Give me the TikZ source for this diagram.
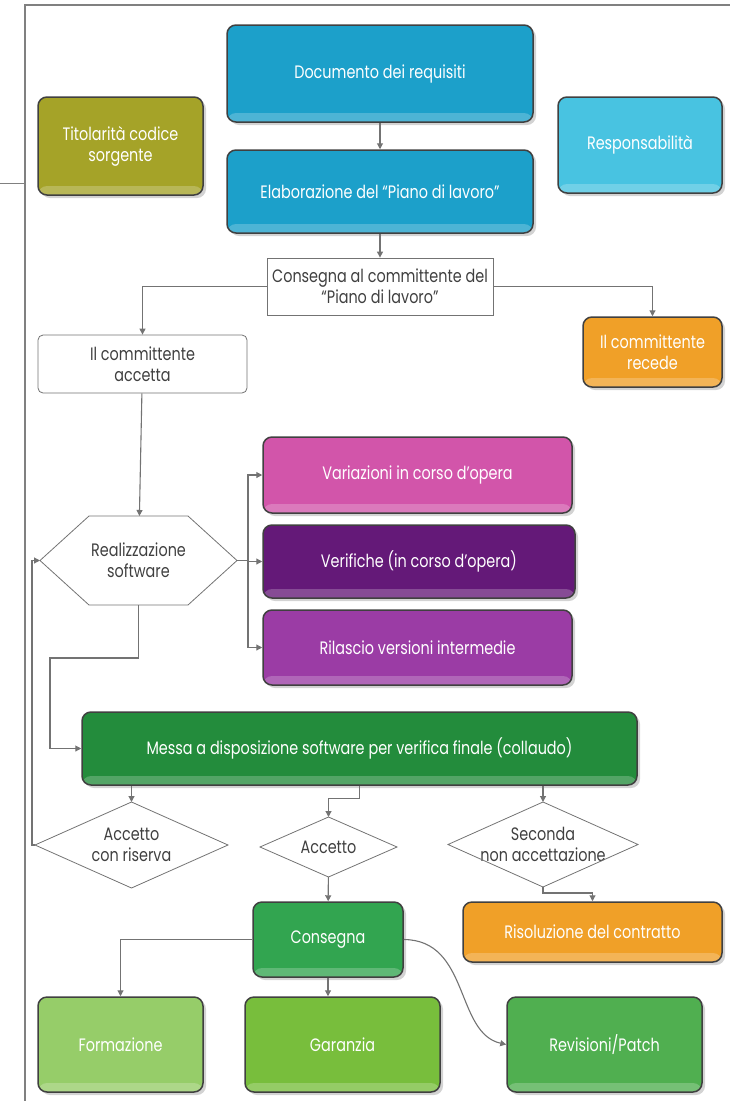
\documentclass[tikz,border=0pt]{standalone}
\usepackage{fontspec}
\setmainfont{Poppins}[FakeStretch=0.8]
\usetikzlibrary{shadows,arrows.meta,calc}
\definecolor{cyanA}{RGB}{28,160,202}
\definecolor{cyanB}{RGB}{72,195,225}
\definecolor{oliveA}{RGB}{165,163,40}
\definecolor{orangeA}{RGB}{240,160,40}
\definecolor{pinkA}{RGB}{210,85,170}
\definecolor{purpleA}{RGB}{100,25,120}
\definecolor{purpleB}{RGB}{155,60,165}
\definecolor{greenA}{RGB}{35,140,60}
\definecolor{greenB}{RGB}{50,165,80}
\definecolor{greenC}{RGB}{150,205,105}
\definecolor{greenD}{RGB}{120,190,60}
\definecolor{greenE}{RGB}{80,175,80}
\begin{document}
\begin{tikzpicture}[x=1pt,y=-1pt,font=\fontsize{18}{21}\selectfont,
  box/.style={draw=black!75,line width=1.5pt,rounded corners=9pt,text=white,align=center,
    drop shadow={opacity=0.35,shadow xshift=3pt,shadow yshift=-3pt},
    path picture={\fill[white,opacity=0.22] ([yshift=9pt]path picture bounding box.south west) rectangle (path picture bounding box.south east);}},
  plain/.style={draw=black!55,line width=0.8pt,fill=white,text=black!75,align=center},
  frame/.style={text=black!75,align=center,inner sep=0pt,outer sep=0pt},
  outline/.style={draw=black!55,line width=0.8pt},
  link/.style={draw=black!55,line width=1.1pt,-{Triangle[length=6pt,width=6pt]}}]
\useasboundingbox (0,0) rectangle (730,1101);
\draw[black!50,line width=1.2pt] (25,1101) -- (25,5) -- (730,5);
\draw[black!50,line width=0.8pt] (0,183) -- (25,183);
\node[box,fill=cyanA,minimum width=306,minimum height=97] (doc) at (380,73.5) {Documento dei requisiti};
\node[box,fill=oliveA,minimum width=165,minimum height=98] (tit) at (120.5,146) {Titolarità codice\\sorgente};
\node[box,fill=cyanB,minimum width=164,minimum height=96] (resp) at (640,145) {Responsabilità};
\node[box,fill=cyanA,minimum width=306,minimum height=83] (elab) at (380,191.5) {Elaborazione del “Piano di lavoro”};
\node[plain,minimum width=226,minimum height=57] (cons) at (380,286.5) {Consegna al committente del\\“Piano di lavoro”};
\node[plain,rounded corners=5pt,minimum width=209,minimum height=58] (acc) at (142.5,364) {Il committente\\accetta};
\node[box,fill=orangeA,minimum width=139,minimum height=70] (rec) at (652.5,352) {Il committente\\recede};
\node[box,fill=pinkA,minimum width=309,minimum height=76] (var) at (417.5,475) {Variazioni in corso d’opera};
\node[box,fill=purpleA,minimum width=312,minimum height=73] (ver) at (419,561.5) {Verifiche (in corso d’opera)};
\node[box,fill=purpleB,minimum width=309,minimum height=75] (ril) at (417.5,647.5) {Rilascio versioni intermedie};
\node[frame,minimum width=197,minimum height=89] (real) at (138.5,560.5) {Realizzazione\\software};
\draw[outline] (real.west) -- ($(real.north west)+(49,0)$) -- ($(real.north east)+(-49,0)$) -- (real.east)
  -- ($(real.south east)+(-49,0)$) -- ($(real.south west)+(49,0)$) -- cycle;
\node[box,fill=greenA,minimum width=555,minimum height=73] (messa) at (359.5,748.5) {Messa a disposizione software per verifica finale (collaudo)};
\node[frame,minimum width=193,minimum height=86] (acr) at (131.5,845) {Accetto\\con riserva};
\node[frame,minimum width=137,minimum height=60] (okd) at (328.5,847) {Accetto};
\node[frame,minimum width=190,minimum height=85] (sec) at (543,844.5) {Seconda\\non accettazione};
\foreach \d in {acr,okd,sec}
  \draw[outline] (\d.west) -- (\d.north) -- (\d.east) -- (\d.south) -- cycle;
\node[box,fill=greenB,minimum width=150,minimum height=75] (cons2) at (328,939.5) {Consegna};
\node[box,fill=orangeA,minimum width=259,minimum height=60] (risol) at (592.5,932) {Risoluzione del contratto};
\node[box,fill=greenC,minimum width=165,minimum height=95] (form) at (120.5,1044.5) {Formazione};
\node[box,fill=greenD,minimum width=195,minimum height=95] (gar) at (342.5,1044.5) {Garanzia};
\node[box,fill=greenE,minimum width=195,minimum height=95] (rev) at (604.5,1044.5) {Revisioni/Patch};
\foreach \u/\v in {doc/elab,elab/cons,acc/real,okd/cons2}
  \draw[link] (\u) -- (\v);
\draw[link] (cons.west) -| (acc.north);
\draw[link] (cons.east) -| (rec.north);
\foreach \t in {var,ver,ril}
  \draw[link] (real.east) -- ++(11,0) |- (\t.west);
\draw[link] (real.south) |- (50,658) |- (messa.west);
\draw[link] (acr.north |- messa.south) -- (acr.north);
\draw[link] (messa.south) -- ++(0,13) -| (okd.north);
\draw[link] (sec.north |- messa.south) -- (sec.north);
\draw[link] (acr.west) -- ++(-3,0) |- (real.west);
\draw[link] (sec.south) -- ++(0,6) -| (risol.north);
\draw[link] (cons2.west) -| (form.north);
\draw[link] (cons2.south) -- (cons2.south |- gar.north);
\draw[link] (cons2.east) .. controls (470,940) and (455,1033) .. (rev.west);
\end{tikzpicture}
\end{document}
